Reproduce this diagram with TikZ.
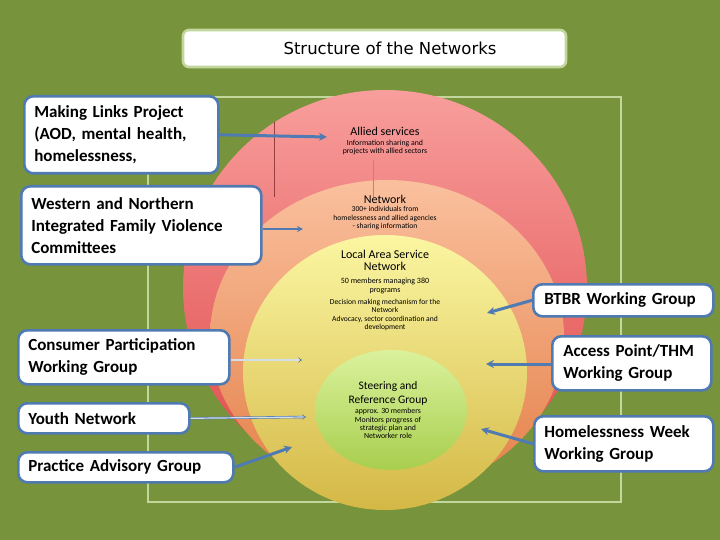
\documentclass[tikz,border=0pt]{standalone}
\usepackage{fontspec}
\setmainfont{Carlito}
\newfontfamily\titlefont{DejaVu Sans}
\usepackage{xcolor}
\usepackage{tikz}
\usetikzlibrary{arrows.meta,calc,positioning}
\definecolor{olivebg}{RGB}{119,147,60}
\definecolor{framegreen}{RGB}{195,214,155}
\definecolor{linkblue}{RGB}{79,122,178}
\definecolor{redtop}{RGB}{248,158,156}
\definecolor{redbot}{RGB}{222,72,72}
\definecolor{orangetop}{RGB}{250,192,158}
\definecolor{orangebot}{RGB}{228,128,72}
\definecolor{yellowtop}{RGB}{251,246,162}
\definecolor{yellowbot}{RGB}{212,184,70}
\definecolor{greentop}{RGB}{218,242,156}
\definecolor{greenbot}{RGB}{168,206,78}
\tikzset{
  groupBox/.style={draw=linkblue, line width=2.6pt, rounded corners=9pt, fill=white,
    anchor=north west, inner xsep=10pt, inner ysep=0pt, align=left,
    font=\fontsize{17}{22}\selectfont\bfseries},
  titleBox/.style={draw=framegreen, line width=2.6pt, rounded corners=6pt, fill=white,
    minimum width=383pt, minimum height=37pt},
  titleText/.style={font=\titlefont\fontsize{16.5}{18}\selectfont, inner sep=0pt},
  ringHead/.style={font=\fontsize{12}{12}\selectfont, align=center, inner sep=0pt},
  ringText/.style={font=\fontsize{7.8}{8.6}\selectfont, align=center, inner sep=0pt},
  linkArrow/.style={draw=linkblue, line width=3pt, -{Stealth[length=8pt,width=8pt]}},
  slimArrow/.style={draw=linkblue, line width=1.8pt, -{Stealth[length=6pt,width=6pt]}},
  dblArrow/.style={draw=linkblue, line width=0.6pt, double=linkblue!25, double distance=1.2pt,
    -{Implies}}
}

\begin{document}
\begin{tikzpicture}[x=1pt, y=-1pt]
  \fill[olivebg] (0,0) rectangle (720,540);
  % frame
  \draw[framegreen, line width=1.8pt] (148,97) rectangle (621,502);
  % nested rings
  \shade[top color=redtop, bottom color=redbot] (385,288) ellipse [x radius=202, y radius=198];
  \shade[top color=orangetop, bottom color=orangebot] (387,337) ellipse [x radius=177, y radius=157];
  \shade[top color=yellowtop, bottom color=yellowbot] (385,372.5) ellipse [x radius=142, y radius=137.5];
  \shade[top color=greentop, bottom color=greenbot] (391,410) ellipse [x radius=76, y radius=60];
  % stray rules
  \draw[red!45!black!75, line width=0.7pt] (274,122) -- (274,197);
  \draw[red!60!white, line width=0.7pt] (373,160) -- (373,197);
  % title
  \node[titleBox] (titlebox) at (374.5,48.5) {};
  \node[titleText] (title) at (390,48) {Structure of the Networks};
  % ring texts
  \node[ringHead] (allied) at (385,131) {Allied services};
  \node[ringText] (alliedtxt) at (385,147.5) {Information sharing and\\projects with allied sectors};
  \node[ringHead] (network) at (385,199) {Network};
  \node[ringText, font=\fontsize{7.6}{8.5}\selectfont] (networktxt) at (385,218.5)
    {300+ individuals from\\homelessness and allied agencies\\- sharing information};
  \node[ringHead] (lasn) at (385,260.5) {Local Area Service\\Network};
  \node[ringText, font=\fontsize{8}{9}\selectfont] (lasntxt) at (385,285.5) {50 members managing 380\\programs};
  \node[ringText, font=\fontsize{7.6}{8.1}\selectfont] (lasnrole) at (385,315)
    {Decision making mechanism for the\\Network\\Advocacy, sector coordination and\\development};
  \node[ringHead, font=\fontsize{11.5}{14}\selectfont] (steer) at (388,393) {Steering and\\Reference Group};
  \node[ringText, font=\fontsize{7.8}{8.3}\selectfont] (steertxt) at (388,423.5)
    {approx. 30 members\\Monitors progress of\\strategic plan and\\Networker role};
  % arrow ends
  \coordinate (tAllied) at (327,137);
  \coordinate (tNet) at (303,229);
  \coordinate (tCons) at (302,360);
  \coordinate (tYouth) at (306,417);
  \coordinate (tPrac) at (292,447);
  \coordinate (tBtbr) at (487,313);
  \coordinate (tAccess) at (486,364);
  \coordinate (tHomeW) at (481,429);
  % left groups
  \node[groupBox, text width=174pt, minimum height=77pt] (mlp) at (23,95)
    {Making Links Project\\(AOD, mental health,\\homelessness,};
  \node[groupBox, text width=220pt, minimum height=78pt] (wnc) at (20,185)
    {Western and Northern\\Integrated Family Violence\\Committees};
  \node[groupBox, text width=191pt, minimum height=54pt] (cpw) at (17,329)
    {Consumer Participation\\Working Group};
  \node[groupBox, text width=151pt, minimum height=30pt] (yn) at (17,402) {Youth Network};
  \node[groupBox, text width=195pt, minimum height=30pt] (pag) at (17,451) {Practice Advisory Group};
  % right groups
  \node[groupBox, inner xsep=11pt, text width=158pt, minimum height=32pt] (btbr) at (532,283)
    {BTBR Working Group};
  \node[groupBox, inner xsep=11pt, text width=137pt, minimum height=54pt] (apw) at (551,335)
    {Access Point/THM\\Working Group};
  \node[groupBox, text width=159pt, minimum height=55pt] (hww) at (533,415)
    {Homelessness Week\\Working Group};
  % links into the rings
  \draw[linkArrow] (mlp.east) -- (tAllied);
  \draw[slimArrow] (wnc.east |- tNet) -- (tNet);
  \draw[dblArrow] (cpw.east |- tCons) -- (tCons);
  \draw[dblArrow] (yn.east) -- (tYouth);
  \draw[linkArrow] (pag.east) -- (tPrac);
  \draw[linkArrow] (btbr.west) -- (tBtbr);
  \draw[linkArrow] (apw.west |- tAccess) -- (tAccess);
  \draw[linkArrow] (hww.west) -- (tHomeW);
\end{tikzpicture}
\end{document}
